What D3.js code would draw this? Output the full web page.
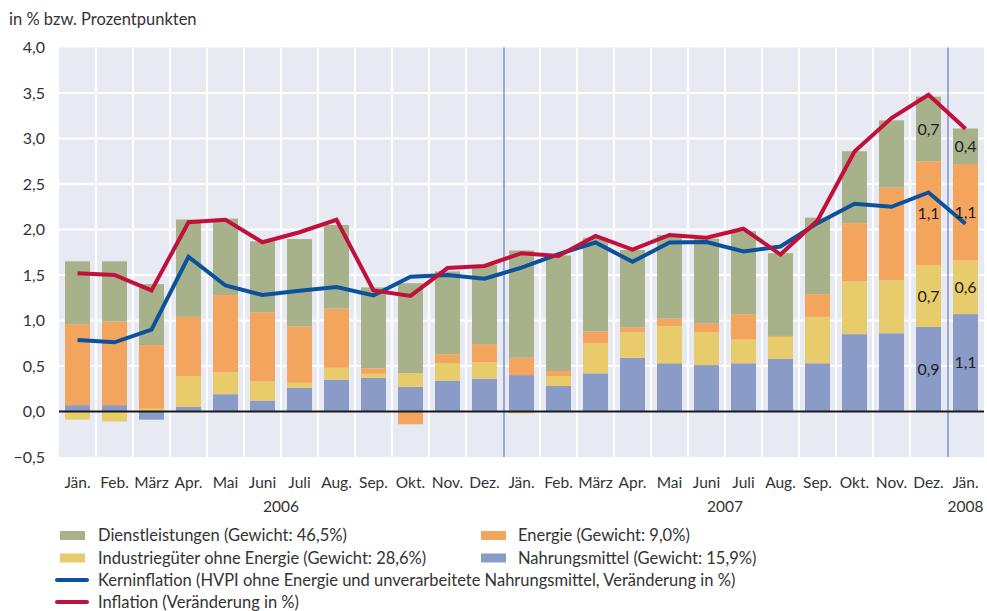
<!DOCTYPE html>
<html><head><meta charset="utf-8">
<script src="https://cdn.jsdelivr.net/npm/d3@7"></script>
<style>
html,body{margin:0;padding:0;background:#fff;}
svg{display:block;font-family:Lato,"Open Sans",sans-serif;}
</style></head>
<body><svg id="c" width="987" height="611"></svg>
<script>
const months = ["Jän.","Feb.","März","Apr.","Mai","Juni","Juli","Aug.","Sep.","Okt.","Nov.","Dez.",
                "Jän.","Feb.","März","Apr.","Mai","Juni","Juli","Aug.","Sep.","Okt.","Nov.","Dez.","Jän."];
const years = [{label:"2006", from:0, to:11},{label:"2007", from:12, to:23},{label:"2008", from:24, to:24}];
const food =       [0.07,0.07,-0.09,0.05,0.19,0.12,0.26,0.35,0.37,0.27,0.34,0.36,0.40,0.28,0.42,0.59,0.53,0.51,0.53,0.58,0.53,0.85,0.86,0.93,1.07];
const industrial = [-0.09,-0.11,0.03,0.34,0.24,0.21,0.055,0.13,0.044,0.15,0.19,0.18,-0.02,0.11,0.33,0.28,0.41,0.36,0.26,0.24,0.51,0.58,0.58,0.68,0.59];
const energy =     [0.89,0.92,0.70,0.65,0.85,0.76,0.62,0.65,0.06,-0.14,0.10,0.20,0.19,0.055,0.13,0.055,0.08,0.10,0.28,0.01,0.25,0.64,1.02,1.14,1.06];
const services =   [0.69,0.66,0.67,1.07,0.84,0.78,0.96,0.92,0.89,0.99,0.91,0.87,1.18,1.27,1.03,0.85,0.92,0.93,0.91,0.91,0.84,0.79,0.74,0.71,0.39];
const core =       [0.785,0.76,0.90,1.70,1.385,1.28,1.326,1.367,1.275,1.48,1.50,1.46,1.58,1.73,1.857,1.645,1.857,1.862,1.758,1.813,2.07,2.282,2.25,2.407,2.063];
const inflation =  [1.52,1.50,1.33,2.08,2.107,1.86,1.97,2.107,1.33,1.27,1.576,1.60,1.74,1.71,1.93,1.78,1.94,1.91,2.008,1.725,2.10,2.857,3.224,3.48,3.107];
const yTicks = [-0.5,0,0.5,1,1.5,2,2.5,3,3.5,4];
const labelled = [23,24];
const yearBreaks = [12,24];

const seriesKeys = ["food","industrial","energy","services"];
const seriesColor = {services:"#a8b28a", energy:"#f4a55d", industrial:"#e8cc6b", food:"#8a9bc7"};
const legendItems = [
  {key:"services", text:"Dienstleistungen (Gewicht: 46,5%)", col:0,row:0},
  {key:"energy", text:"Energie (Gewicht: 9,0%)", col:1,row:0},
  {key:"industrial", text:"Industriegüter ohne Energie (Gewicht: 28,6%)", col:0,row:1},
  {key:"food", text:"Nahrungsmittel (Gewicht: 15,9%)", col:1,row:1},
];
const lineItems = [
  {color:"#0b519b", text:"Kerninflation (HVPI ohne Energie und unverarbeitete Nahrungsmittel, Veränderung in %)"},
  {color:"#c1103a", text:"Inflation (Veränderung in %)"}
];

const data = months.map((m,i)=>({i, food:food[i], industrial:industrial[i], energy:energy[i], services:services[i]}));

const svg = d3.select("#c");
const L=59, R=984, T=47.5, B=457;
const x = d3.scaleBand().domain(d3.range(months.length)).range([L,R]).paddingInner(12/37).paddingOuter(6/37);
const step = x.step();
const y = d3.scaleLinear().domain([-0.5,4]).range([B,T]);
const fmt = v => d3.format(".1f")(v).replace(".",",").replace("-","−");

// background
svg.append("rect").attr("x",L).attr("y",T).attr("width",R-L).attr("height",B-T).attr("fill","#e7e9f3");
// horizontal grid
svg.append("g").selectAll("line").data(yTicks.filter(t=>t!==0 && t!==-0.5 && t!==4)).join("line")
  .attr("x1",L).attr("x2",R).attr("y1",d=>y(d)).attr("y2",d=>y(d)).attr("stroke","#fff").attr("stroke-width",2);
// vertical grid
svg.append("g").selectAll("line").data(d3.range(1,months.length).filter(i=>!yearBreaks.includes(i))).join("line")
  .attr("x1",i=>x(i)-(step-x.bandwidth())/2).attr("x2",i=>x(i)-(step-x.bandwidth())/2)
  .attr("y1",T).attr("y2",B).attr("stroke","#fff").attr("stroke-width",2);

// stacked bars
const stack = d3.stack().keys(seriesKeys).offset(d3.stackOffsetDiverging);
const layers = stack(data);
svg.append("g").selectAll("g").data(layers).join("g").attr("fill",d=>seriesColor[d.key])
  .selectAll("rect").data(d=>d).join("rect")
  .attr("x",d=>x(d.data.i)).attr("width",x.bandwidth())
  .attr("y",d=>y(Math.max(d[0],d[1]))).attr("height",d=>Math.abs(y(d[0])-y(d[1])));

// year separator lines
svg.append("g").selectAll("line").data(yearBreaks).join("line")
  .attr("x1",i=>x(i)-(step-x.bandwidth())/2+1).attr("x2",i=>x(i)-(step-x.bandwidth())/2+1)
  .attr("y1",T).attr("y2",B).attr("stroke","#8797cb").attr("stroke-width",1.6);

// zero line
svg.append("line").attr("x1",L).attr("x2",R).attr("y1",y(0)).attr("y2",y(0)).attr("stroke","#1a1a1a").attr("stroke-width",2);

// lines
const line = d3.line().x((d,i)=>x(i)+x.bandwidth()/2).y(d=>y(d));
svg.append("path").datum(core).attr("d",line).attr("fill","none").attr("stroke","#0b519b").attr("stroke-width",4).attr("stroke-linejoin","miter");
svg.append("path").datum(inflation).attr("d",line).attr("fill","none").attr("stroke","#c1103a").attr("stroke-width",4).attr("stroke-linejoin","miter");

// value labels
const lab = svg.append("g").attr("font-size",16).attr("fill","#1e1e1e").attr("text-anchor","middle");
layers.forEach(layer=>{
  labelled.forEach(i=>{
    const d = layer[i];
    lab.append("text").attr("x",x(i)+x.bandwidth()/2).attr("y",y((d[0]+d[1])/2)).attr("dy","0.35em")
      .text(fmt(d.data[layer.key]));
  });
});

// y axis labels
svg.append("g").attr("font-size",16).attr("fill","#333").attr("text-anchor","end")
  .selectAll("text").data(yTicks).join("text")
  .attr("x",45).attr("y",d=>y(d)).attr("dy","0.35em").text(d=>fmt(d));
svg.append("text").attr("x",9).attr("y",25).attr("font-size",16.5).attr("fill","#333").text("in % bzw. Prozentpunkten");

// x axis labels
svg.append("g").attr("font-size",15.5).attr("fill","#333").attr("text-anchor","middle")
  .selectAll("text").data(months).join("text")
  .attr("x",(d,i)=>x(i)+x.bandwidth()/2).attr("y",488).text(d=>d);
svg.append("g").attr("font-size",15.5).attr("fill","#333").attr("text-anchor","middle")
  .selectAll("text").data(years).join("text")
  .attr("x",d=>{ if(d.from===d.to) return x(d.from)+x.bandwidth()/2; return (x(d.from)+x(d.to)+x.bandwidth())/2; })
  .attr("y",512).text(d=>d.label);

// legend
const lg = svg.append("g").attr("font-size",16.5).attr("fill","#333");
legendItems.forEach(it=>{
  const lx = it.col===0 ? 60 : 481, cy = 535.5 + it.row*22.5;
  lg.append("rect").attr("x",lx).attr("y",cy-4.5).attr("width",25).attr("height",9).attr("fill",seriesColor[it.key]);
  lg.append("text").attr("x",it.col===0 ? 98 : 518).attr("y",cy).attr("dy","0.35em").text(it.text);
});
lineItems.forEach((it,k)=>{
  const cy = 580 + k*22;
  lg.append("line").attr("x1",57).attr("x2",87).attr("y1",cy).attr("y2",cy).attr("stroke",it.color).attr("stroke-width",4).attr("stroke-linecap","round");
  lg.append("text").attr("x",98).attr("y",cy).attr("dy","0.35em").text(it.text);
});
</script></body></html>
